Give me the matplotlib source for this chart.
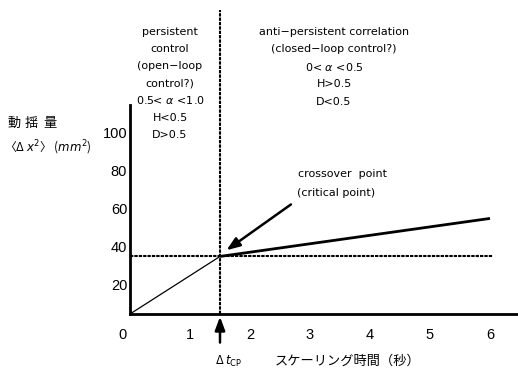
import matplotlib
matplotlib.use("Agg")
import matplotlib.pyplot as plt

plt.rcParams['font.family'] = ['Noto Sans CJK JP', 'DejaVu Sans']
plt.rcParams['mathtext.fontset'] = 'dejavusans'

# data
x_ticks = [1, 2, 3, 4, 5, 6]
x_tick_labels = ['1', '2', '3', '4', '5', '6']
y_ticks = [20, 40, 60, 80, 100]
y_tick_labels = ['20', '40', '60', '80', '100']
crossover_x = 1.5
crossover_y = 35
line1_x = [0, 1.5]
line1_y = [4.7, 35]
line2_x = [1.5, 6.0]
line2_y = [35, 55]
hline_x = [0, 6.05]

y_bottom = 4.7
y_top = 164.7
x_right = (518 - 130) / 60.0

fig = plt.figure(figsize=(5.18, 3.68), dpi=100)
ax = fig.add_axes([130/518, 1 - 314/368, 1 - 130/518, (314 - 10)/368])
ax.set_xlim(0, x_right)
ax.set_ylim(y_bottom, y_top)

for s in ['top', 'right']:
    ax.spines[s].set_visible(False)
ax.spines['left'].set_linewidth(2)
ax.spines['bottom'].set_linewidth(2)
ax.spines['left'].set_bounds(y_bottom, 114.7)

tick_font = ['Liberation Sans', 'DejaVu Sans']
ax.set_xticks(x_ticks)
ax.set_xticklabels(x_tick_labels, family=tick_font)
ax.set_yticks(y_ticks)
ax.set_yticklabels(y_tick_labels, family=tick_font)
ax.tick_params(length=0, labelsize=10.5, pad=2)
ax.tick_params(axis='x', pad=10)
ax.annotate('0', xy=(-0.12, y_bottom), xytext=(0, -10), textcoords='offset points',
            ha='center', va='top', fontsize=10.5, family=tick_font, annotation_clip=False)

# lines
dash = (0, (1.6, 0.5))
ax.plot(line1_x, line1_y, color='black', lw=0.9, solid_capstyle='butt')
ax.plot(line2_x, line2_y, color='black', lw=2.0, solid_capstyle='butt')
ax.plot(hline_x, [crossover_y, crossover_y], color='black', lw=1.5, ls=dash)
ax.plot([crossover_x, crossover_x], [y_bottom, y_top], color='black', lw=1.5, ls=dash)

# arrows
ax.annotate('', xy=(1.57, 37.4), xytext=(2.72, 63.2),
            arrowprops=dict(arrowstyle='-|>,head_length=0.8,head_width=0.3', color='black', lw=1.8))
ax.annotate('', xy=(crossover_x, y_bottom), xytext=(crossover_x, y_bottom - 16.5),
            arrowprops=dict(arrowstyle='-|>,head_length=0.8,head_width=0.3', color='black', lw=1.8),
            annotation_clip=False)

fs = 8
lat = ['DejaVu Sans']
# region texts (figure pixel coords)
def ftext(px, py, s, **kw):
    fig.text(px/518, 1 - py/368, s, **kw)

left_lines = ['persistent', 'control', '(open−loop', 'control?)', '0.5< $\\alpha$ <1.0', 'H<0.5', 'D>0.5']
left_y = [32, 49, 66, 83, 100, 118, 135]
for s, yy in zip(left_lines, left_y):
    ftext(170, yy, s, ha='center', va='center', fontsize=fs, family=lat)

right_lines = ['anti−persistent correlation', '(closed−loop control?)', '0< $\\alpha$ <0.5', 'H>0.5', 'D<0.5']
right_y = [32, 49, 67, 84, 102]
for s, yy in zip(right_lines, right_y):
    ftext(334, yy, s, ha='center', va='center', fontsize=fs, family=lat)

ftext(298, 174, 'crossover  point', ha='left', va='center', fontsize=fs, family=lat)
ftext(297, 193, '(critical point)', ha='left', va='center', fontsize=fs, family=lat)

for i, ch in enumerate('動揺量'):
    ftext(7 + i * 18, 123, ch, ha='left', va='center', fontsize=9.5)
ftext(4, 148, '〈Δ $x^2$〉 ($mm^2$)', ha='left', va='center', fontsize=8.5)

ftext(215, 361, 'Δ $t_{\\mathrm{CP}}$', ha='left', va='center', fontsize=8.5)
ftext(275, 361, 'スケーリング時間（秒）', ha='left', va='center', fontsize=9.5)

fig.savefig('out.png', dpi=100)
